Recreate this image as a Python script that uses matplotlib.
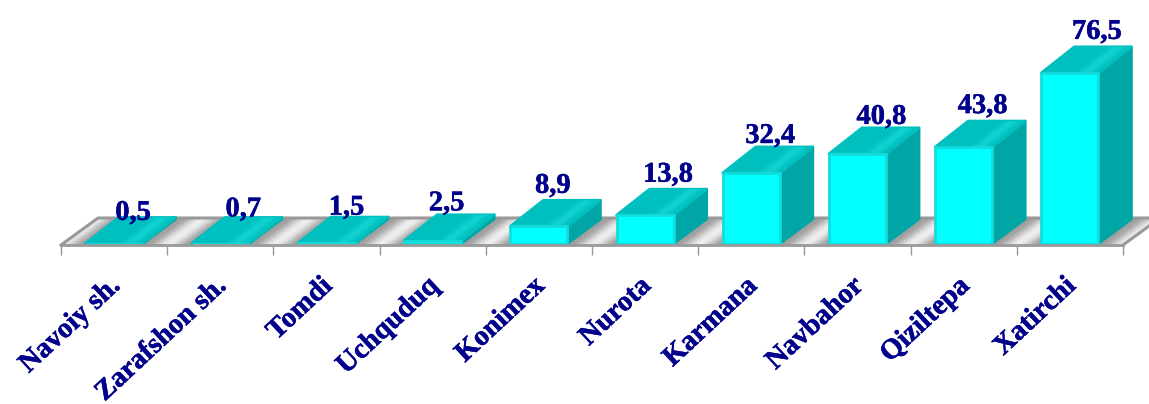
import matplotlib
matplotlib.use("Agg")
import matplotlib.pyplot as plt
from matplotlib.patches import Polygon
from matplotlib.transforms import ScaledTranslation
import matplotlib.patheffects as pe
import numpy as np

categories = ["Navoiy sh.", "Zarafshon sh.", "Tomdi", "Uchquduq", "Konimex",
              "Nurota", "Karmana", "Navbahor", "Qiziltepa", "Xatirchi"]
values = [0.5, 0.7, 1.5, 2.5, 8.9, 13.8, 32.4, 40.8, 43.8, 76.5]
value_labels = ["0,5", "0,7", "1,5", "2,5", "8,9", "13,8", "32,4", "40,8", "43,8", "76,5"]
label_dx_px = [19, 23, 20, 14, 14, 23, 19, 24, 19, 27]
label_gap_px = [-2, 1, 1, 3, 6, 6, 2.5, 2.5, 6.5, 6.5]

W, H = 1149, 404
X0, X1, Y0 = 61, 1123, 245
PX_PER_VALUE = 2.27
YMAX = 100

TEXT = "#00008B"
FONT = "Liberation Serif"
plt.rcParams["font.family"] = [FONT, "DejaVu Serif"]

fig = plt.figure(figsize=(W / 100, H / 100), dpi=100)
ax = fig.add_axes([X0 / W, 1 - Y0 / H, (X1 - X0) / W, YMAX * PX_PER_VALUE / H])
ax.set_xlim(0, len(categories))
ax.set_ylim(0, YMAX)
ax.patch.set_visible(False)

px_x = len(categories) / (X1 - X0)
px_y = 1 / PX_PER_VALUE
bold = [pe.withStroke(linewidth=0.35, foreground=TEXT)]


def poly(pts, color, z, lw=0.0, ec=None):
    ax.add_patch(Polygon(pts, closed=True, facecolor=color, edgecolor=ec if ec else color,
                         linewidth=lw, joinstyle="round", clip_on=False, zorder=z))


# floor
FDX, FDY = 37 * px_x, 27 * px_y
stops = np.linspace(0, 1, 61)
light, dark = 0.93, 0.60
for i in range(-1, len(categories) + 1):
    for a, b in zip(stops[:-1], stops[1:]):
        d = (a + b) / 2 - 0.5
        k = np.cos(np.pi * d / 0.42) ** 2 if abs(d) < 0.21 else 0.0
        g = dark + (light - dark) * k
        xa, xb = i - 0.5 + a, i - 0.5 + b + 0.004
        xa, xb = max(xa, 0), min(xb, len(categories))
        if xb <= xa:
            continue
        poly([(xa, 0), (xb, 0), (xb + FDX, FDY), (xa + FDX, FDY)], str(round(g, 3)), 1)

GRAY = "#999999"
ax.plot([0, FDX, len(categories) + FDX + 0.3], [0, FDY, FDY], color=GRAY, lw=2.2,
        clip_on=False, zorder=2, solid_joinstyle="round")
ax.plot([len(categories), len(categories) + FDX], [0, FDY], color=GRAY, lw=2.2,
        clip_on=False, zorder=2)

# bars
BW = 60 * px_x
DX, DY = 33 * px_x, 26 * px_y
RX, RY = 1.5 * px_x, 1.5 * px_y
EDGE = 2.0
for i, (v, lab) in enumerate(zip(values, value_labels)):
    xl = i + 0.5 - BW / 2
    xr = xl + BW
    z = 5 + i
    top = max(v - RY, RY)
    # side face
    poly([(xr - RX, RY), (xr + DX - RX, DY), (xr + DX - RX, top + DY), (xr - RX, top)],
         "#00A5A5", z, EDGE)
    # top face, with a soft highlight
    poly([(xl + RX, top), (xr - RX, top), (xr + DX - RX, top + DY), (xl + DX + RX, top + DY)],
         "#00BFBF", z, EDGE)
    t = np.linspace(0, 1, 31)
    span = BW - 2 * RX
    for a, b in zip(t[:-1], t[1:]):
        m = (a + b) / 2
        k = np.exp(-((m - 0.78) / 0.13) ** 2)
        col = (0.0 + 0.08 * k, 0.75 + 0.09 * k, 0.75 + 0.09 * k)
        xa, xb = xl + RX + a * span, xl + RX + b * span
        poly([(xa, top), (xb, top), (xb + DX, top + DY), (xa + DX, top + DY)], col, z + 0.1)
    # front face
    poly([(xl + RX, RY), (xr - RX, RY), (xr - RX, top), (xl + RX, top)],
         "#00FFFF", z + 0.2, EDGE, "#14DCDC")
    ax.annotate(lab, xy=(i + 0.5, v),
                xytext=(label_dx_px[i] * 0.72, (26 + label_gap_px[i]) * 0.72),
                textcoords="offset points", ha="center", va="baseline",
                fontsize=20.5, fontweight="bold", color=TEXT, zorder=30,
                annotation_clip=False, path_effects=bold)

# axis
for s in ("top", "left", "right"):
    ax.spines[s].set_visible(False)
ax.spines["bottom"].set_color(GRAY)
ax.spines["bottom"].set_linewidth(2.0)
ax.spines["bottom"].set_zorder(40)
ax.set_yticks([])
ax.set_xticks(range(len(categories) + 1))
ax.tick_params(axis="x", which="major", length=7.2, width=1.0, color=GRAY, labelbottom=False)
ax.set_xticks(np.arange(len(categories)) + 0.5, minor=True)
ax.set_xticklabels(categories, minor=True, rotation=43, ha="right", va="top",
                   rotation_mode="anchor", fontsize=20.5, fontweight="bold", color=TEXT)
ax.tick_params(axis="x", which="minor", length=0, pad=20.5)
shift = ScaledTranslation(-6 / 100, 0, fig.dpi_scale_trans)
for lbl in ax.get_xticklabels(minor=True):
    lbl.set_transform(lbl.get_transform() + shift)
    lbl.set_path_effects(bold)

fig.savefig("out.png", dpi=100, facecolor="white")
